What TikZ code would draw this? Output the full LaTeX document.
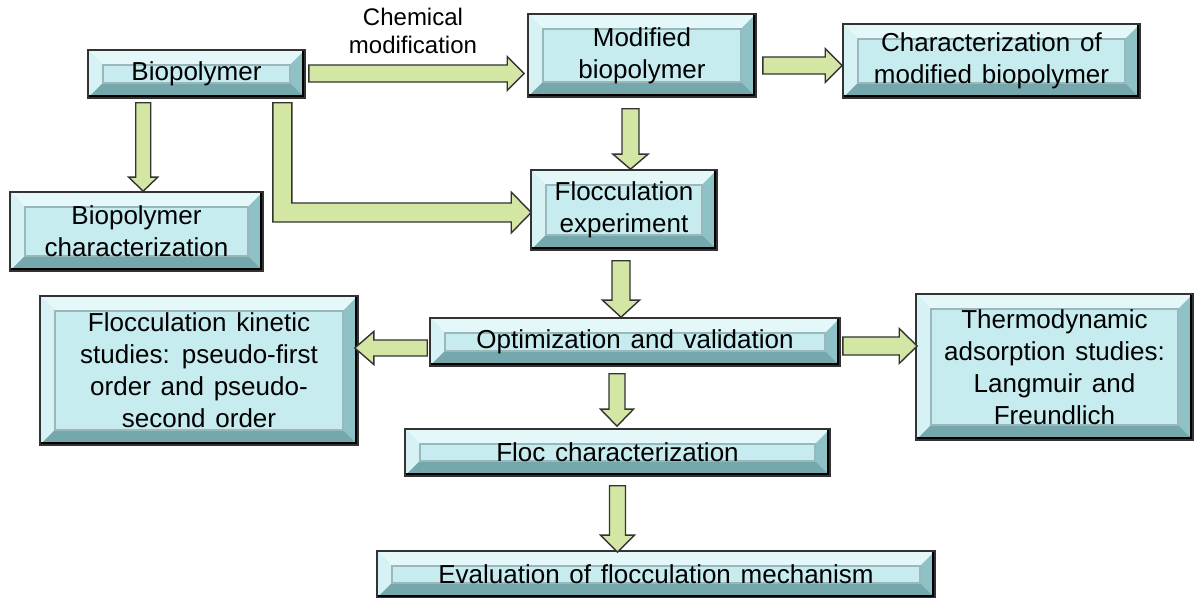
\documentclass[tikz,border=0pt]{standalone}
\usepackage{fontspec}
\setmainfont{Liberation Sans}[WordSpace={1.35}]
\usetikzlibrary{calc}
\definecolor{face}{HTML}{C6ECEF}
\definecolor{bevlight}{HTML}{E4F8F9}
\definecolor{bevleft}{HTML}{D6F2F4}
\definecolor{bevdark}{HTML}{8EC2C6}
\definecolor{bevdarker}{HTML}{74A8AC}
\definecolor{arrfill}{HTML}{D3E6A3}
\definecolor{innerline}{HTML}{9AB8BB}
\newcommand\bevelpic{%
  \coordinate (NW) at (path picture bounding box.north west);
  \coordinate (NE) at (path picture bounding box.north east);
  \coordinate (SW) at (path picture bounding box.south west);
  \coordinate (SE) at (path picture bounding box.south east);
  \fill[bevlight] (NW) -- (NE) -- ($(NE)+(-7pt,-7pt)$) -- ($(NW)+(7pt,-7pt)$) -- cycle;
  \fill[bevleft] (NW) -- ($(NW)+(7pt,-7pt)$) -- ($(SW)+(7pt,7pt)$) -- (SW) -- cycle;
  \fill[bevdark] (NE) -- (SE) -- ($(SE)+(-7pt,7pt)$) -- ($(NE)+(-7pt,-7pt)$) -- cycle;
  \fill[bevdarker] (SW) -- (SE) -- ($(SE)+(-7pt,7pt)$) -- ($(SW)+(7pt,7pt)$) -- cycle;
  \draw[innerline, line width=0.6pt] ($(NW)+(7.5pt,-7.5pt)$) rectangle ($(SE)+(-7.5pt,7.5pt)$);
  \draw[black, line width=2.6pt] (NE) -- (SE) -- (SW);}
\tikzset{
  bbox/.style={draw=black!80, line width=0.8pt, fill=face, inner sep=0pt,
    align=center, font=\fontsize{13}{16}\selectfont, path picture={\bevelpic}},
  wd/.style={minimum width=#1*0.5pt},
  ht/.style={minimum height=#1*0.5pt},
  blk/.style={fill=arrfill, draw=black!80, line width=0.7pt, line join=miter},
  lbl/.style={align=center, font=\fontsize{12}{14}\selectfont, inner sep=0pt}
}
% horizontal block arrow: #1 start, #2 tip (x only), #3 shaft half, #4 head half, #5 head length (signed), px
\newcommand\ArrH[5]{%
  \draw[blk] let \p1=#1, \p2=#2 in
    (\x1,{\y1+#3*0.5pt}) -- ({\x2-#5*0.5pt},{\y1+#3*0.5pt}) -- ({\x2-#5*0.5pt},{\y1+#4*0.5pt})
    -- (\x2,\y1) -- ({\x2-#5*0.5pt},{\y1-#4*0.5pt}) -- ({\x2-#5*0.5pt},{\y1-#3*0.5pt})
    -- (\x1,{\y1-#3*0.5pt}) -- cycle;}
% vertical (downward) block arrow: #1 start, #2 tip (y only)
\newcommand\ArrV[5]{%
  \draw[blk] let \p1=#1, \p2=#2 in
    ({\x1-#3*0.5pt},\y1) -- ({\x1+#3*0.5pt},\y1) -- ({\x1+#3*0.5pt},{\y2+#5*0.5pt})
    -- ({\x1+#4*0.5pt},{\y2+#5*0.5pt}) -- (\x1,\y2) -- ({\x1-#4*0.5pt},{\y2+#5*0.5pt})
    -- ({\x1-#3*0.5pt},{\y2+#5*0.5pt}) -- cycle;}
\begin{document}
\begin{tikzpicture}[x=0.5pt,y=-0.5pt]
\fill[white] (0,0) rectangle (1196,598);
\useasboundingbox (0,0) rectangle (1196,598);

\node[bbox, wd=217, ht=48] (bio) at (196.5,74) {Biopolymer};
\node[bbox, wd=228, ht=83] (mod) at (642,55.5) {Modified\\biopolymer};
\node[bbox, wd=297, ht=74] (char) at (991.5,61) {Characterization of\\modified biopolymer};
\node[bbox, wd=253, ht=79] (bchar) at (136.5,231.5) {Biopolymer\\characterization};
\node[bbox, wd=186, ht=80] (floc) at (624,210) {Flocculation\\experiment};
\node[bbox, wd=410, ht=48] (opt) at (635,342) {Optimization and validation};
\node[bbox, wd=318, ht=149] (kin) at (199,370.5) {Flocculation kinetic\\studies: pseudo-first\\order and pseudo-\\second order};
\node[bbox, wd=277, ht=146] (thermo) at (1054.5,367) {Thermodynamic\\adsorption studies:\\Langmuir and\\Freundlich};
\node[bbox, wd=425, ht=47] (fchar) at (617.5,452.5) {Floc characterization};
\node[bbox, wd=558, ht=47] (eval) at (656,574.5) {Evaluation of flocculation mechanism};

\node[lbl] (chem) at (413,31) {Chemical\\modification};

\ArrH{($(bio.east)+(3,-0.5)$)}{($(mod.west)+(-3,0)$)}{8.5}{17}{17}
\ArrH{($(mod.east)+(6,10)$)}{(char.west)}{8.5}{17}{17}
\ArrV{($(bio.south west)+(56,4)$)}{(bchar.north)}{7.5}{14.5}{14}
\ArrV{($(mod.south)+(-11.5,11)$)}{(floc.north)}{8.5}{17.5}{15}
\ArrV{($(floc.south)+(-3,10)$)}{(opt.north)}{9}{18.5}{17}
\ArrH{($(opt.west)+(-2,6)$)}{($(kin.east)+(-4,0)$)}{8}{16.5}{-19}
\ArrH{($(opt.east)+(2,4)$)}{($(thermo.west)+(2,0)$)}{9}{17.5}{18}
\ArrV{($(opt.south)+(-18,7)$)}{($(fchar.north)+(0,-2)$)}{8}{16.5}{17}
\ArrV{($(fchar.south)+(0,9)$)}{($(eval.north)+(0,2)$)}{8}{17}{17}

\draw[blk] let \p1=($(bio.south east)+(-33,4)$), \p2=($(floc.west)+(1,2.5)$) in
  (\x1,\y1) -- ({\x1+9.5pt},\y1) -- ({\x1+9.5pt},{\y2+4.75pt}) -- ({\x2-10pt},{\y2+4.75pt})
  -- ({\x2-10pt},{\y2+10.25pt}) -- (\x2,\y2) -- ({\x2-10pt},{\y2-10.25pt})
  -- ({\x2-10pt},{\y2-4.75pt}) -- (\x1,{\y2-4.75pt}) -- cycle;
\end{tikzpicture}
\end{document}
